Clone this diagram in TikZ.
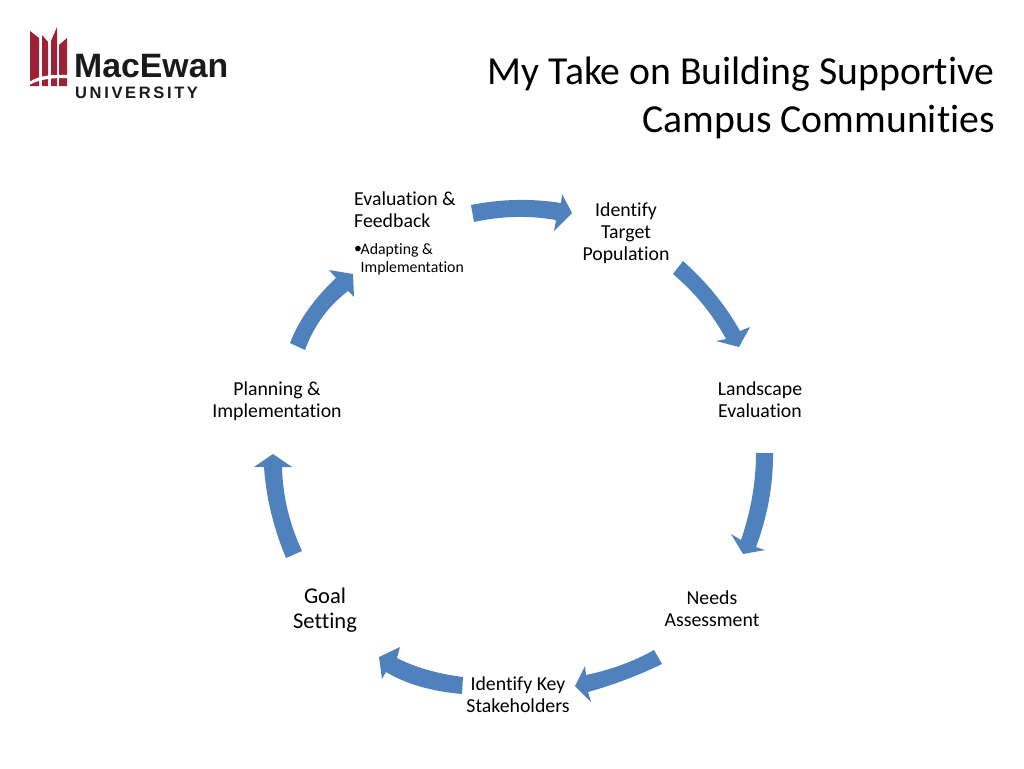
\documentclass[tikz,border=0pt]{standalone}
\usepackage{fontspec}
\setmainfont{Carlito}[Ligatures={NoCommon,NoRequired,NoContextual}]
\newfontfamily\logofont{Liberation Sans}[BoldFont={Liberation Sans Bold}]
\newfontfamily\logospaced{Liberation Sans Bold}[LetterSpace=16]
\definecolor{cycleblue}{HTML}{4F81BD}
\definecolor{logored}{HTML}{9B2335}
\definecolor{logoink}{HTML}{1A1A1A}
\tikzset{
  cyclearrow/.style={fill=cycleblue,draw=none},
  logobar/.style={fill=logored,draw=none},
  steplabel/.style={inner sep=0pt,align=center,font=\fontsize{19.8}{22}\selectfont,text=black},
  goallabel/.style={inner sep=0pt,align=center,font=\fontsize{22.5}{25}\selectfont,text=black},
  titlelabel/.style={inner sep=0pt,align=right,anchor=east,font=\fontsize{39.7}{48}\selectfont,text=black}
}
\begin{document}
\begin{tikzpicture}[x=1pt,y=-1pt]
\useasboundingbox (0,0) rectangle (1024,768);
\fill[white] (0,0) rectangle (1024,768);
% logo
\fill[logobar] (30,31) -- (39,38) -- (39,86) -- (30,86) -- cycle;
\fill[logobar] (42,35) -- (48,42) -- (48,86) -- (42,86) -- cycle;
\fill[logobar] (51,41) -- (57,27) -- (57,86) -- (51,86) -- cycle;
\fill[logobar] (59,45) -- (67,38) -- (67,86) -- (59,86) -- cycle;
\fill[white] (29,82) .. controls (42,74) and (55,75) .. (68,75) -- (68,78) .. controls (55,78) and (42,78) .. (29,85) -- cycle;
\node[anchor=base west,inner sep=0pt,text=logoink,font=\fontsize{33.8}{33.8}\logofont\bfseries\selectfont] (logoname) at (74,77.5) {MacEwan};
\node[anchor=base west,inner sep=0pt,text=logoink,font=\fontsize{16.5}{16.5}\logospaced\selectfont] (logouni) at (75,98) {UNIVERSITY};
% title
\node[titlelabel] (title) at (995,98) {My Take on Building Supportive\\Campus Communities};
% arrows
\fill[cyclearrow] (471,205) .. controls (501,199) and (531,198.3) .. (561,203) -- (562,194) -- (572,213) -- (554,231) -- (556,220) .. controls (528.7,215.3) and (501.3,216) .. (474,222) -- cycle;
\fill[cyclearrow] (683,261) .. controls (706.3,281.7) and (725.3,305) .. (740,331) -- (750,327) -- (739,347) -- (716,341) -- (726,339) .. controls (712.7,314.3) and (695,292.7) .. (673,274) -- cycle;
\fill[cyclearrow] (773,453) .. controls (773.3,484.3) and (767.7,515.7) .. (756,547) -- (765,550) -- (743,554) -- (731,534) -- (741,540) .. controls (751,510.7) and (756,481.7) .. (756,453) -- cycle;
\fill[cyclearrow] (654,650) .. controls (634,661.3) and (611.3,669.7) .. (586,675) -- (585,666) -- (575,686) -- (591,702) -- (588,692) .. controls (614,684.7) and (638.7,675.3) .. (662,664) -- cycle;
\fill[cyclearrow] (463,677) .. controls (437,673.7) and (415,667.3) .. (397,658) -- (400,647) -- (379,657) -- (382,679) -- (386,672) .. controls (406,684) and (431.3,691.3) .. (462,694) -- cycle;
\fill[cyclearrow] (286,558) .. controls (273.3,527.3) and (266,497) .. (264,467) -- (254,467) -- (273,454) -- (292,467) -- (282,467) .. controls (282.7,495.7) and (289.3,523.7) .. (302,551) -- cycle;
\fill[cyclearrow] (290,343) .. controls (298.7,320.3) and (314,298.7) .. (336,278) -- (329,270) -- (353,274) -- (354,297) -- (348,291) .. controls (328,306.3) and (313.7,326) .. (305,350) -- cycle;
% labels
\node[steplabel,anchor=north west,align=left] (evaluation) at (354,192) {Evaluation \&\\Feedback};
\node[inner sep=0pt,anchor=base west,font=\fontsize{15.8}{18}\selectfont] (bullet) at (354,253.5) {•};
\node[inner sep=0pt,anchor=north west,align=left,font=\fontsize{15.8}{18}\selectfont] (adapting) at (360.5,243) {Adapting \&\\Implementation};
\node[steplabel] (identify) at (626,233.5) {Identify\\Target\\Population};
\node[steplabel] (landscape) at (760,399.5) {Landscape\\Evaluation};
\node[steplabel] (needs) at (712,609) {Needs\\Assessment};
\node[steplabel] (stakeholders) at (518,694.5) {Identify Key\\Stakeholders};
\node[goallabel] (goal) at (325,610) {Goal\\Setting};
\node[steplabel] (planning) at (277,401.5) {Planning \&\\Implementation};
\end{tikzpicture}
\end{document}
